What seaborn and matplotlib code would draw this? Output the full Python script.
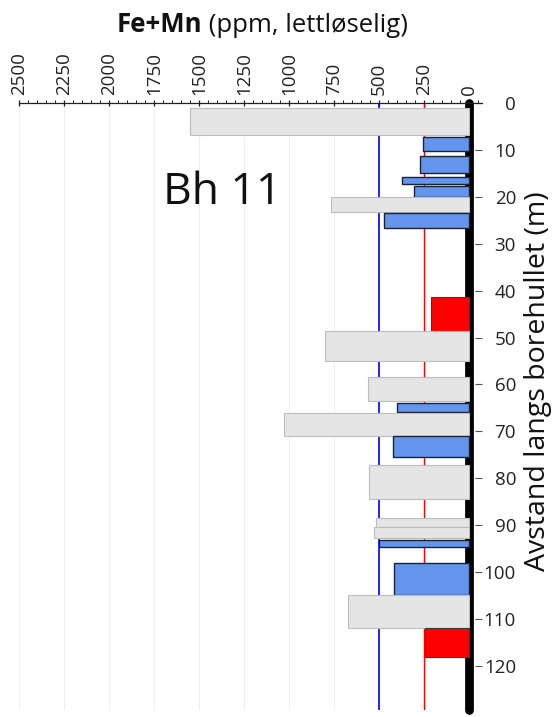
import matplotlib
matplotlib.use("Agg")
import matplotlib.pyplot as plt
from matplotlib.lines import Line2D
from matplotlib.ticker import MultipleLocator
import seaborn as sns

# Sample intervals along the borehole (m) and soluble Fe+Mn (ppm)
depth_top = [1.1, 7.2, 11.4, 15.8, 17.8, 20.1, 23.4, 41.3, 48.7, 58.5,
             64.0, 66.0, 70.9, 77.2, 88.4, 90.5, 93.2, 98.1, 104.9, 112.0]
depth_bottom = [6.8, 10.2, 14.9, 17.3, 20.0, 23.2, 26.6, 48.8, 54.9, 63.5,
                65.9, 70.9, 75.4, 84.5, 90.5, 92.8, 94.6, 104.9, 112.0, 118.2]
fe_mn_ppm = [1550, 255, 270, 370, 305, 765, 470, 210, 800, 560,
             400, 1030, 420, 555, 515, 530, 500, 415, 675, 245]
sample_class = ["gray", "blue", "blue", "blue", "blue", "gray", "blue", "red", "gray", "gray",
                "blue", "gray", "blue", "gray", "gray", "gray", "blue", "blue", "gray", "red"]

# Threshold lines (ppm)
limit_blue = 500
limit_red = 250

x_ticks = [2500, 2250, 2000, 1750, 1500, 1250, 1000, 750, 500, 250, 0]
y_ticks = [0, 10, 20, 30, 40, 50, 60, 70, 80, 90, 100, 110, 120]

FONT = "Open Sans"
sns.set_style("white")
plt.rcParams["font.family"] = [FONT, "DejaVu Sans"]

styles = {
    "gray": dict(facecolor="#e5e5e5", edgecolor="#bdbdbd", linewidth=0.8),
    "blue": dict(facecolor="#6495ED", edgecolor="#1a2233", linewidth=1.0),
    "red": dict(facecolor="#ff0000", edgecolor="#3a3a3a", linewidth=0.8),
}

W, H = 554, 717
fig = plt.figure(figsize=(W / 100, H / 100), dpi=100)
ax = fig.add_axes([19 / W, 1 - 710.4 / H, 462.6 / W, 607.4 / H])

ax.set_xlim(2500, -70)
ax.set_ylim(129.5, 0)

# Threshold lines sit behind the bars
ax.axvline(limit_blue, color="#0000ff", lw=1.2, zorder=1)
ax.axvline(limit_red, color="#ff0000", lw=1.0, zorder=1)

# Thick borehole line at zero
ax.add_line(Line2D([0, 0], [0, 129.5], color="black", lw=6.3,
                   solid_capstyle="round", clip_on=False, zorder=2))

for top, bot, val, cls in zip(depth_top, depth_bottom, fe_mn_ppm, sample_class):
    ax.barh((top + bot) / 2, val, height=bot - top, left=0, align="center",
            zorder=3, **styles[cls])

# Axes styling
for side in ["left", "right", "bottom"]:
    ax.spines[side].set_visible(False)
ax.spines["top"].set_visible(True)
ax.spines["top"].set_color("#222222")
ax.spines["top"].set_linewidth(0.9)

ax.xaxis.set_ticks_position("top")
ax.xaxis.set_label_position("top")
ax.set_xticks(x_ticks)
ax.set_xticklabels([str(t) for t in x_ticks], rotation=90)
ax.xaxis.set_minor_locator(MultipleLocator(50))
ax.tick_params(axis="x", which="major", direction="inout", length=4.5, width=0.9,
               color="#222222", labelsize=13.5, pad=3.2, labelcolor="#222222")
ax.tick_params(axis="x", which="minor", direction="out", length=2.0, width=0.7,
               color="#222222")
ax.grid(axis="x", which="major", color="#f0f0f0", lw=0.8, zorder=0)
ax.grid(axis="y", visible=False)
for lbl in ax.get_xticklabels():
    lbl.set_verticalalignment("bottom")

ax.yaxis.set_ticks_position("right")
ax.set_yticks(y_ticks)
ax.set_yticklabels([str(t) for t in y_ticks])
ax.tick_params(axis="y", which="major", direction="in", length=5, width=0.8,
               color="#555555", labelsize=13.5, pad=24.8, labelcolor="#222222",
               left=False, right=True, labelleft=False, labelright=True)
for lbl in ax.get_yticklabels():
    lbl.set_horizontalalignment("right")
ax.set_ylabel("")
ax.set_xlabel("")

# Title with bold chemical part
fig.canvas.draw()
renderer = fig.canvas.get_renderer()
t1 = fig.text(0, 0, "Fe+Mn", fontsize=18.5, fontweight="bold", color="#111111")
t2 = fig.text(0, 0, " (ppm, lettløselig)", fontsize=18.5, color="#111111")
w1 = t1.get_window_extent(renderer).width
w2 = t2.get_window_extent(renderer).width
x0 = 262 - (w1 + w2) / 2
base_y = 1 - 32 / H
t1.set_position((x0 / W, base_y))
t2.set_position(((x0 + w1) / W, base_y))
t1.set_verticalalignment("baseline")
t2.set_verticalalignment("baseline")

fig.text(163 / W, 1 - 204 / H, "Bh 11", fontsize=32, color="#111111", va="baseline")

fig.text(538 / W, 1 - 381 / H, "Avstand langs borehullet (m)", fontsize=20.5,
         rotation=90, ha="center", va="center", color="#111111")

fig.savefig("out.png", dpi=100)
